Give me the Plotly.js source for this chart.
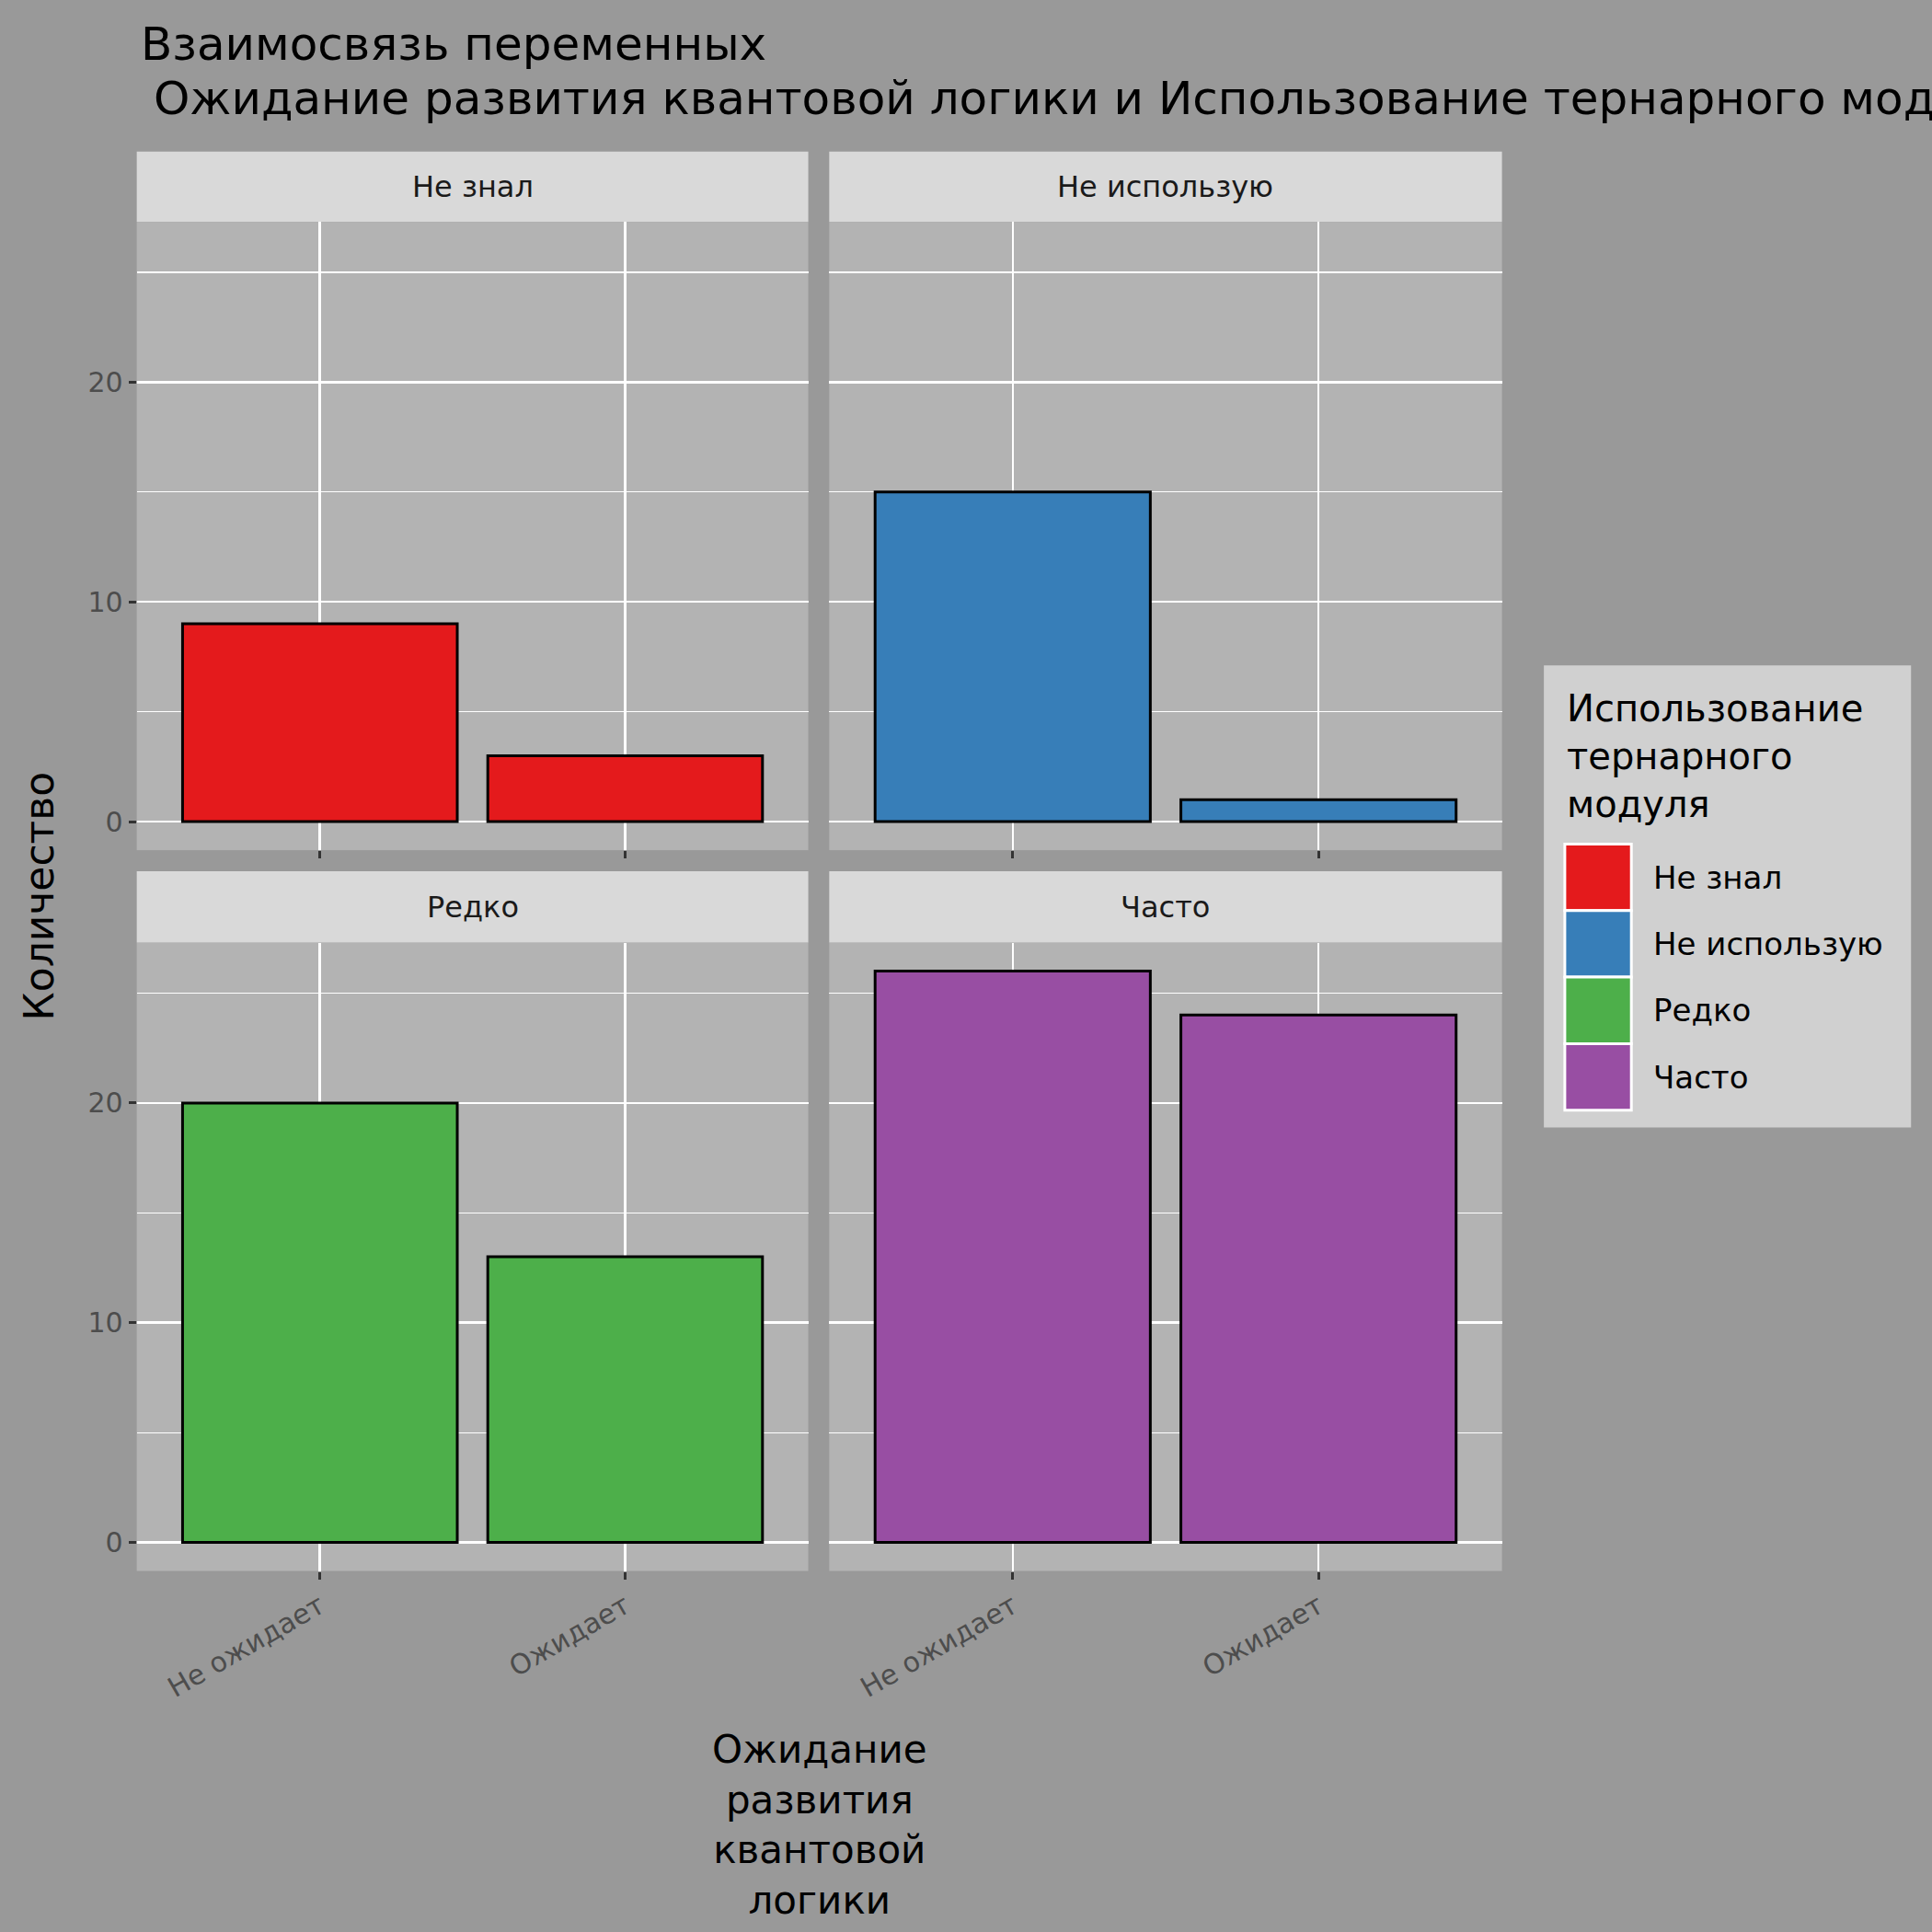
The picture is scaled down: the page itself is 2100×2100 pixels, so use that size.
<!DOCTYPE html>
<html><head><meta charset="utf-8">
<script src="https://cdn.plot.ly/plotly-3.0.1.min.js"></script>
<style>body{margin:0;background:#999999}</style></head>
<body><div id="c" style="width:2100px;height:2100px"></div>
<script>
const categories = ["Не ожидает", "Ожидает"];
const panels = ["Не знал", "Не использую", "Редко", "Часто"];
const colors = ["#E41A1C", "#377EB8", "#4DAF4A", "#984EA3"];
const valsNeZnal = [9, 3];
const valsNeIsp = [15, 1];
const valsRedko = [20, 13];
const valsChasto = [26, 24];
const values = [valsNeZnal, valsNeIsp, valsRedko, valsChasto];

const W = 1568;
const F = "DejaVu Sans";
const px = v => v / W;
const py = v => 1 - v / W;
const xd = [[px(111), px(656)], [px(673), px(1219)]];
const yd = [[py(690), py(180)], [py(1275), py(765)]];

const traces = [];
const layout = {
  width: 2100, height: 2100, margin: {l:0, r:0, t:0, b:0},
  paper_bgcolor: "#999999", plot_bgcolor: "#b3b3b3",
  showlegend: false, font: {family: F, color: "#000"},
  shapes: [], annotations: []
};
panels.forEach((p, i) => {
  const r = Math.floor(i / 2), c = i % 2, n = i + 1;
  const xa = "x" + (n === 1 ? "" : n), ya = "y" + (n === 1 ? "" : n);
  traces.push({type: "bar", x: categories, y: values[i], xaxis: xa, yaxis: ya, width: 0.9,
    marker: {color: colors[i], line: {color: "#000", width: 3}}, hoverinfo: "skip"});
  layout["xaxis" + (n === 1 ? "" : n)] = {
    domain: xd[c], anchor: ya, range: [-0.6, 1.6], type: "category",
    showgrid: true, gridcolor: "#fff", gridwidth: 2.5, zeroline: false,
    ticks: "outside", ticklen: 8, tickwidth: 3, tickcolor: "#333",
    showticklabels: r === 1, tickangle: -30,
    tickfont: {family: F, size: 30, color: "#4d4d4d"}
  };
  layout["yaxis" + (n === 1 ? "" : n)] = {
    domain: yd[r], anchor: xa, range: [-1.3, 27.3],
    tickvals: [0, 10, 20], showgrid: true, gridcolor: "#fff", gridwidth: 2.5, zeroline: false,
    minor: {tickvals: [5, 15, 25], showgrid: true, gridcolor: "#fff", gridwidth: 1.2},
    ticks: c === 0 ? "outside" : "", ticklen: 8, tickwidth: 3, tickcolor: "#333",
    showticklabels: c === 0, tickfont: {family: F, size: 30, color: "#4d4d4d"}
  };
  const sy = r === 0 ? [py(180), py(123)] : [py(765), py(707)];
  layout.shapes.push({type: "rect", xref: "paper", yref: "paper", x0: xd[c][0], x1: xd[c][1],
    y0: sy[0], y1: sy[1], fillcolor: "#d9d9d9", line: {width: 0}});
  layout.annotations.push({xref: "paper", yref: "paper", x: (xd[c][0] + xd[c][1]) / 2,
    y: (sy[0] + sy[1]) / 2, xanchor: "center", yanchor: "middle",
    text: p, showarrow: false, font: {size: 32, color: "#1a1a1a"}});
});
// legend
layout.shapes.push({type: "rect", xref: "paper", yref: "paper", x0: px(1253), x1: px(1551),
  y0: py(915), y1: py(540), fillcolor: "#d0d0d0", line: {width: 0}});
layout.annotations.push({xref: "paper", yref: "paper", x: px(1270), y: py(556), xanchor: "left", yanchor: "top",
  align: "left", showarrow: false, text: "Использование<br>тернарного<br>модуля", font: {size: 40}});
panels.forEach((p, i) => {
  const top = 685 + i * 54;
  layout.shapes.push({type: "rect", xref: "paper", yref: "paper", x0: px(1270), x1: px(1324),
    y0: py(top + 54), y1: py(top), fillcolor: colors[i], line: {color: "#fff", width: 3}});
  layout.annotations.push({xref: "paper", yref: "paper", x: px(1340), y: py(top + 27), xanchor: "left",
    yanchor: "middle", showarrow: false, text: p, font: {size: 34}});
});
layout.annotations.push({xref: "paper", yref: "paper", x: px(113), y: py(36), xanchor: "left", yanchor: "middle",
  showarrow: false, text: "Взаимосвязь переменных", font: {size: 50}});
layout.annotations.push({xref: "paper", yref: "paper", x: px(123), y: py(80), xanchor: "left", yanchor: "middle",
  showarrow: false, text: "Ожидание развития квантовой логики и Использование тернарного модуля", font: {size: 50}});
layout.annotations.push({xref: "paper", yref: "paper", x: px(32), y: py(727), xanchor: "center", yanchor: "middle",
  textangle: -90, showarrow: false, text: "Количество", font: {size: 44}});
layout.annotations.push({xref: "paper", yref: "paper", x: px(665), y: py(1400), xanchor: "center", yanchor: "top",
  showarrow: false, text: "Ожидание<br>развития<br>квантовой<br>логики", font: {size: 42}});
Plotly.newPlot("c", traces, layout, {staticPlot: true});
</script></body></html>
